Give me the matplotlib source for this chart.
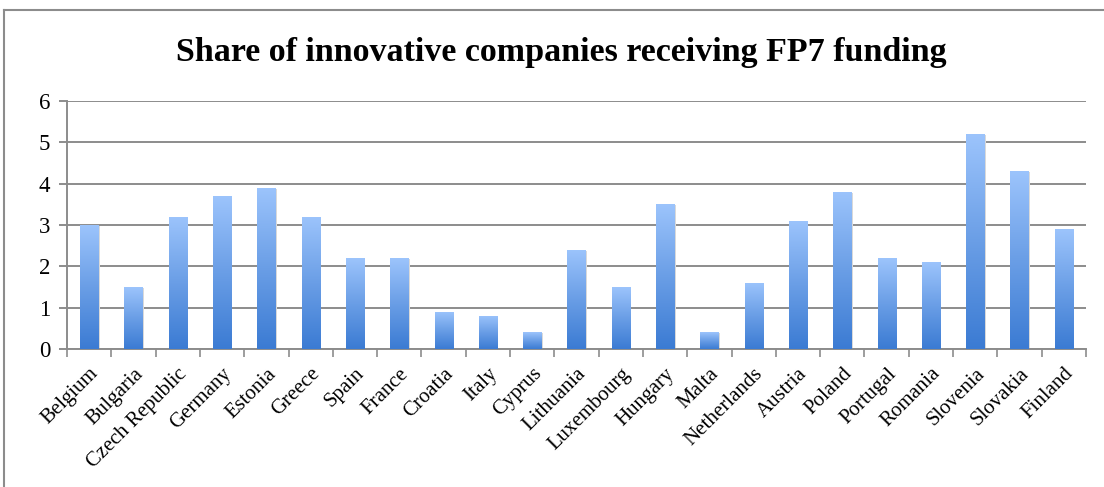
import matplotlib
matplotlib.use("Agg")
import matplotlib.pyplot as plt
import numpy as np
from matplotlib.colors import LinearSegmentedColormap
from matplotlib.lines import Line2D

countries = ["Belgium", "Bulgaria", "Czech Republic", "Germany", "Estonia", "Greece",
             "Spain", "France", "Croatia", "Italy", "Cyprus", "Lithuania", "Luxembourg",
             "Hungary", "Malta", "Netherlands", "Austria", "Poland", "Portugal",
             "Romania", "Slovenia", "Slovakia", "Finland"]
shares = [3.0, 1.5, 3.2, 3.7, 3.9, 3.2, 2.2, 2.2, 0.9, 0.8, 0.4, 2.4, 1.5,
          3.5, 0.4, 1.6, 3.1, 3.8, 2.2, 2.1, 5.2, 4.3, 2.9]

plt.rcParams['font.family'] = ['Liberation Serif', 'DejaVu Serif']

fig = plt.figure(figsize=(11.04, 4.87), dpi=100)
ax = fig.add_axes([67 / 1104, 1 - 349 / 487, (1086 - 67) / 1104, (349 - 101) / 487])

x = np.arange(len(countries))
grad_cmap = LinearSegmentedColormap.from_list("bar", ["#3b7bd3", "#6a9ee6", "#9cc4fc"])
gradient = np.linspace(0, 1, 256).reshape(-1, 1)

bars = ax.bar(x, shares, width=0.41, color="none", edgecolor="none", zorder=3)
for b in bars:
    x0, w, h = b.get_x(), b.get_width(), b.get_height()
    # soft shadow
    ax.add_patch(plt.Rectangle((x0 + 0.03, 0), w, h - 0.02, facecolor="#d9d9d9",
                               edgecolor="none", zorder=2.5))
    im = ax.imshow(gradient, cmap=grad_cmap, aspect="auto", origin="lower",
                   extent=(x0, x0 + w, 0, h), zorder=3)
    im.set_clip_path(b)

ax.set_xlim(-0.5, len(countries) - 0.5)
ax.set_ylim(0, 6)
ax.set_yticks(range(7))
ax.yaxis.grid(True, color="#8c8c8c", linewidth=1.4)
ax.set_axisbelow(True)

ax.set_xticks(x)
ax.set_xticklabels(countries, rotation=45, ha="right", rotation_mode="anchor", fontsize=15)
ax.set_xticks(np.arange(-0.5, len(countries), 1), minor=True)
ax.tick_params(axis="x", which="major", length=0, pad=11)
ax.tick_params(axis="x", which="minor", length=6, color="#8c8c8c", width=1.2)
ax.tick_params(axis="y", length=6, color="#8c8c8c", width=1.4, labelsize=16.5, pad=6)

for side in ["top", "right"]:
    ax.spines[side].set_visible(False)
for side in ["left", "bottom"]:
    ax.spines[side].set_color("#8c8c8c")
    ax.spines[side].set_linewidth(1.4)

fig.text(561 / 1104, 1 - 52 / 487, "Share of innovative companies receiving FP7 funding",
         ha="center", va="center", fontsize=24.5, fontweight="bold")

# outer chart frame (cut off at right and bottom)
fig.add_artist(Line2D([4 / 1104, 4 / 1104], [0, 1 - 10 / 487], transform=fig.transFigure,
                      color="#8c8c8c", linewidth=1.5))
fig.add_artist(Line2D([4 / 1104, 1], [1 - 10 / 487, 1 - 10 / 487], transform=fig.transFigure,
                      color="#8c8c8c", linewidth=1.5))

fig.savefig("out.png", dpi=100)
